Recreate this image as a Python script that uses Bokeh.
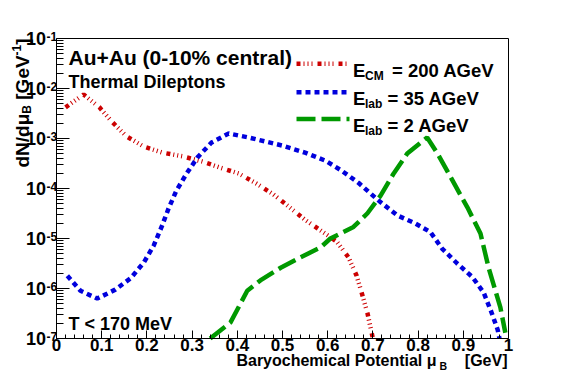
import math
from bokeh.plotting import figure
from bokeh.models import FixedTicker, Label, CustomJSTickFormatter, LinearAxis, LogAxis, Range1d
from bokeh.embed import file_html
from bokeh.resources import INLINE

# ---------------- data ----------------
mu_200 = [0.02, 0.06, 0.095, 0.124, 0.155, 0.193, 0.235, 0.279, 0.321, 0.363, 0.403,
          0.442, 0.48, 0.513, 0.549, 0.584, 0.62, 0.646, 0.664, 0.677, 0.688, 0.70]
dn_200 = [4.2e-3, 7.6e-3, 4.2e-3, 2.1e-3, 1.1e-3, 6.9e-4, 5.2e-4, 4.4e-4, 3.5e-4, 2.6e-4, 2.0e-4,
          1.26e-4, 7.6e-5, 4.4e-5, 2.4e-5, 1.45e-5, 8.7e-6, 4.2e-6, 1.8e-6, 7.2e-7, 3.2e-7, 1.0e-7]

mu_35 = [0.024, 0.053, 0.09, 0.13, 0.164, 0.193, 0.215, 0.232, 0.248, 0.265, 0.288, 0.312,
         0.343, 0.381, 0.425, 0.5, 0.55, 0.595, 0.63, 0.668, 0.712, 0.754, 0.794, 0.827,
         0.853, 0.886, 0.92, 0.945, 0.962, 0.976, 0.98]
dn_35 = [1.8e-6, 9e-7, 6.3e-7, 9.5e-7, 1.6e-6, 3.3e-6, 7.2e-6, 1.66e-5, 4e-5, 9e-5, 2e-4, 4.2e-4,
         8.3e-4, 1.26e-3, 1.05e-3, 7.2e-4, 5.2e-4, 3.6e-4, 2.3e-4, 1.3e-4, 5.8e-5, 2.9e-5, 2e-5, 1.35e-5,
         6.3e-6, 3.2e-6, 1.7e-6, 8.3e-7, 3.4e-7, 1.5e-7, 1.0e-7]

mu_2 = [0.34, 0.385, 0.422, 0.451, 0.496, 0.54, 0.584, 0.606, 0.657, 0.688, 0.717, 0.746,
        0.776, 0.82, 0.843, 0.876, 0.909, 0.938, 0.956, 0.982, 0.993]
dn_2 = [1.0e-7, 2.1e-7, 9e-7, 1.45e-6, 2.6e-6, 4.2e-6, 6.6e-6, 1.0e-5, 1.7e-5, 3.2e-5, 7.2e-5, 2e-4,
        5e-4, 1.05e-3, 5e-4, 1.45e-4, 4.2e-5, 1.26e-5, 2.6e-6, 4.2e-7, 1.3e-7]

x_ticks = [0, 0.1, 0.2, 0.3, 0.4, 0.5, 0.6, 0.7, 0.8, 0.9, 1]
y_exponents = [-7, -6, -5, -4, -3, -2, -1]

series_names = ["CM", "lab", "lab"]
series_rest = ["= 200 AGeV", "= 35 AGeV", "= 2 AGeV"]

title_text = "Au+Au (0-10% central)"
subtitle_text = "Thermal Dileptons"
temp_text = "T < 170 MeV"

# ---------------- styles / layout ----------------
FONT = "Liberation Sans"
RED, BLUE, GREEN = "#cc0000", "#0000dd", "#009900"
DASH_RED = "4 3 1 3 1 3 1 5"
DASH_BLUE = "5 4"
DASH_GREEN = "19 6"
LW = 4.5

CW, CH = 564, 373                     # canvas size
FL, FT, FWID, FHGT = 56.0, 38.0, 452.0, 300.0   # axes box in canvas pixels
X0, X1 = 0.0, 1.0
E0, E1 = -7, -1
DEC = FHGT / (E1 - E0)


def PX(px):
    return X0 + (px - FL) / FWID * (X1 - X0)


def PY(py):
    return 10 ** (E1 - (py - FT) / DEC)


# Helvetica-Bold advance widths (1/1000 em)
HW = {'d': 611, 'N': 722, '/': 278, 'μ': 611, 'B': 722, ' ': 278, '[': 333, 'G': 778,
      'e': 556, 'V': 667, ']': 333, '-': 333, '1': 556}


def tw(s, fs):
    return sum(HW.get(c, 556) for c in s) * fs / 1000.0


p = figure(width=CW, height=CH, x_range=Range1d(PX(0), PX(CW)), y_range=Range1d(PY(CH), PY(0)),
           y_axis_type="log", x_axis_location=None, y_axis_location=None,
           output_backend="svg", toolbar_location=None,
           min_border_left=0, min_border_right=0, min_border_top=0, min_border_bottom=0,
           background_fill_color="white", border_fill_color="white")
p.grid.visible = False
p.outline_line_color = None

blank = CustomJSTickFormatter(code="return '';")

# bottom axis (at y = 1e-7)
xaxis = LinearAxis(fixed_location=10.0 ** E0, bounds=(X0, X1),
                   ticker=FixedTicker(ticks=x_ticks, minor_ticks=[i * 0.02 for i in range(51)]),
                   formatter=CustomJSTickFormatter(
                       code="return (tick == 0) ? '0' : (Math.abs(tick - 1) < 1e-9 ? '1' : tick.toFixed(1));"))
xaxis.major_tick_in = 8
xaxis.major_tick_out = 0
xaxis.minor_tick_in = 4
xaxis.minor_tick_out = 0
xaxis.major_label_standoff = 0
xaxis.major_label_text_font = FONT
xaxis.major_label_text_font_style = "bold"
xaxis.major_label_text_font_size = "17px"
xaxis.major_label_text_color = "black"
p.add_layout(xaxis, "below")

# left axis (at x = 0)
y_major = [10.0 ** e for e in y_exponents]
y_minor = [k * 10.0 ** e for e in y_exponents[:-1] for k in range(2, 10)]
yaxis = LogAxis(fixed_location=X0, bounds=(10.0 ** E0, 10.0 ** E1),
                ticker=FixedTicker(ticks=y_major, minor_ticks=y_minor), formatter=blank)
yaxis.major_tick_in = 13
yaxis.major_tick_out = 0
yaxis.minor_tick_in = 7
yaxis.minor_tick_out = 0
yaxis.major_label_standoff = 0
p.add_layout(yaxis, "left")

# top and right frame borders
top = LinearAxis(fixed_location=10.0 ** E1, bounds=(X0, X1), ticker=FixedTicker(ticks=[]), formatter=blank)
right = LogAxis(fixed_location=X1, bounds=(10.0 ** E0, 10.0 ** E1), ticker=FixedTicker(ticks=[]), formatter=blank)
p.add_layout(top, "above")
p.add_layout(right, "right")

for ax in (xaxis, yaxis, top, right):
    ax.axis_line_color = "black"
    ax.axis_line_width = 1
    ax.major_tick_line_color = "black"
    ax.minor_tick_line_color = "black"

# curves
p.line(mu_200, dn_200, line_color=RED, line_width=LW, line_dash=DASH_RED)
p.line(mu_35, dn_35, line_color=BLUE, line_width=LW, line_dash=DASH_BLUE)
p.line(mu_2, dn_2, line_color=GREEN, line_width=LW, line_dash=DASH_GREEN)


def lab(x, y, text, fs, align="left", baseline="alphabetic", angle=0.0):
    p.add_layout(Label(x=x, y=y, x_units="data", y_units="data", text=text,
                       text_font=FONT, text_font_style="bold", text_font_size=f"{fs}px",
                       text_color="black", text_align=align, text_baseline=baseline,
                       angle=angle, angle_units="rad"))


# y tick labels 10^n
for e in y_exponents:
    ty = FT + (E1 - e) * DEC
    lab(PX(45.5), PY(ty), "10", 18, align="right", baseline="middle")
    lab(PX(46.0), PY(ty - 2.0), str(e), 12)

# texts in the frame
lab(PX(68), PY(57), title_text, 21)
lab(PX(68), PY(81), subtitle_text, 18)
lab(PX(68), PY(323), temp_text, 18)

# legend
rows_y = [63.3, 91.7, 118.5]
colors = [RED, BLUE, GREEN]
dashes = [DASH_RED, DASH_BLUE, DASH_GREEN]
rest_x = [391.5, 387.0, 387.0]
for i in range(3):
    yy = PY(rows_y[i])
    p.line([PX(296), PX(349)], [yy, yy], line_color=colors[i], line_width=LW, line_dash=dashes[i])
    lab(PX(352.5), PY(rows_y[i] + 6.3), "E", 18.5)
    lab(PX(364.5), PY(rows_y[i] + 12.0), series_names[i], 12)
    lab(PX(rest_x[i]), PY(rows_y[i] + 6.3), series_rest[i], 18.5)

# x axis title (composed for the subscript)
XB = 360.0
lab(PX(436), PY(XB), "Baryochemical Potential μ", 16, align="right")
lab(PX(439), PY(XB + 5.0), "B", 10.5)
lab(PX(507), PY(XB), "[GeV]", 16, align="right")

# y axis title (rotated, composed; spaces advanced by hand)
FSY, FSS = 19, 12
bx = 21.5
cur = 167.0
parts = [("dN/dμ", FSY, 0.0), ("B", FSS, 5.0), (" ", FSY, 0.0), ("[GeV", FSY, 0.0),
         ("-1", FSS, -6.0), ("]", FSY, 0.0)]
for text, fs, off in parts:
    if text.strip():
        lab(PX(bx + off), PY(cur), text, fs, angle=math.pi / 2)
    cur -= tw(text, fs)

open("out.html", "w").write(file_html(p, INLINE))
